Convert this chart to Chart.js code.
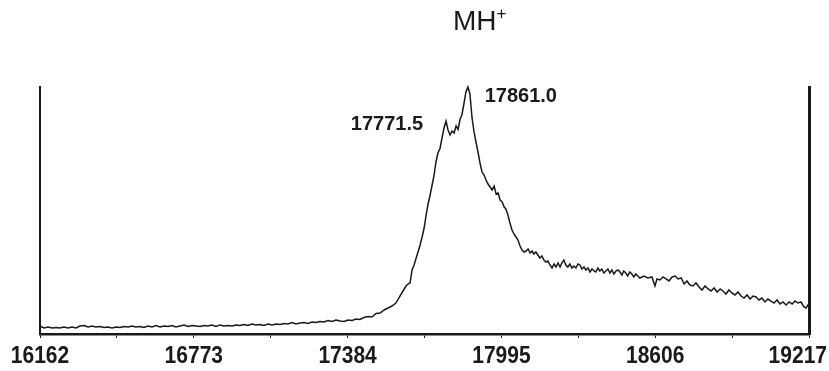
<!DOCTYPE html>
<html>
<head>
<meta charset="utf-8">
<script src="https://cdn.jsdelivr.net/npm/chart.js@4/dist/chart.umd.min.js"></script>
<style>
  html, body { margin: 0; padding: 0; background: #fff; }
</style>
</head>
<body>
<canvas id="chart" width="829" height="371"></canvas>
<script>
// spectrum: mass (Da) and relative intensity (%)
const masses = [
  16162,16178,16194,16210,16226,16241,16257,16273,16289,16305,
  16321,16337,16353,16369,16384,16400,16416,16432,16448,16464,
  16480,16496,16512,16528,16543,16559,16575,16591,16607,16623,
  16639,16655,16671,16686,16702,16718,16734,16750,16766,16782,
  16798,16814,16829,16845,16861,16877,16893,16909,16925,16941,
  16957,16972,16988,17004,17020,17036,17052,17068,17084,17100,
  17116,17131,17147,17163,17179,17195,17211,17227,17243,17259,
  17274,17290,17306,17322,17338,17354,17370,17386,17402,17417,
  17433,17449,17465,17481,17497,17513,17529,17545,17560,17576,
  17592,17604,17616,17624,17632,17640,17648,17660,17672,17680,
  17688,17696,17703,17711,17719,17727,17735,17743,17751,17759,
  17767,17775,17783,17791,17799,17807,17815,17823,17831,17838,
  17846,17854,17862,17870,17878,17886,17894,17902,17910,17918,
  17926,17934,17942,17950,17958,17966,17974,17982,17990,17998,
  18006,18013,18021,18029,18037,18045,18053,18061,18069,18077,
  18085,18093,18101,18109,18117,18124,18132,18140,18148,18156,
  18164,18172,18180,18188,18196,18204,18212,18220,18228,18235,
  18243,18251,18259,18267,18275,18283,18291,18299,18307,18315,
  18323,18331,18339,18347,18355,18363,18370,18378,18386,18394,
  18402,18410,18418,18426,18434,18442,18450,18458,18466,18474,
  18481,18489,18497,18505,18513,18521,18529,18537,18545,18561,
  18577,18593,18605,18613,18625,18637,18649,18661,18673,18685,
  18697,18709,18721,18732,18744,18756,18768,18780,18792,18804,
  18816,18828,18840,18852,18864,18875,18887,18899,18911,18923,
  18935,18947,18959,18971,18983,18995,19007,19018,19030,19042,
  19054,19066,19078,19090,19102,19114,19126,19138,19150,19161,
  19173,19185,19197,19205,19213,19217
]
const intensities = [
  3.24,2.43,2.83,2.43,2.63,2.43,2.83,2.43,2.83,2.43,
  3.24,3.44,2.83,3.24,2.83,3.04,2.63,2.83,2.43,2.83,
  2.63,3.04,2.83,3.24,2.83,3.04,2.63,3.24,2.83,3.44,
  2.83,3.24,3.04,3.44,2.83,3.24,3.64,3.04,3.44,3.24,
  3.04,3.44,3.24,3.64,3.04,3.64,3.24,3.44,3.24,3.64,
  3.44,3.85,3.44,4.05,3.64,3.85,3.44,4.05,3.64,4.05,
  3.85,4.25,4.05,4.66,4.05,4.45,4.66,4.25,4.86,4.66,
  5.06,4.86,5.47,5.06,5.67,5.26,5.06,5.67,5.47,6.07,
  5.87,6.68,7.09,6.88,8.30,8.50,9.72,10.53,11.34,12.55,
  15.38,17.41,19.43,20.24,20.65,25.91,27.94,31.98,36.03,39.27,
  42.91,48.18,52.23,55.87,59.92,63.97,69.64,73.28,75.10,79.35,
  83.40,86.23,82.59,80.57,82.20,81.38,84.21,82.80,87.04,88.66,
  93.12,98.00,100.0,97.17,87.85,82.00,77.73,73.68,69.23,65.59,
  64.37,62.35,60.73,59.51,58.30,59.90,56.68,57.09,54.25,53.44,
  51.42,50.61,48.18,44.94,42.11,40.49,39.27,38.06,35.63,34.01,
  33.20,33.60,34.41,32.79,33.60,32.39,33.20,31.98,30.77,31.58,
  29.96,29.15,29.55,27.94,26.72,28.34,27.13,28.74,27.13,28.74,
  29.96,27.94,27.13,28.34,26.72,27.53,26.72,28.34,27.94,26.32,
  27.13,25.91,26.72,25.10,26.32,25.51,25.10,26.72,25.51,26.32,
  24.70,25.51,26.32,24.70,25.91,24.29,25.51,25.91,25.10,23.89,
  25.51,24.70,23.48,25.10,24.29,23.08,24.29,23.48,22.67,23.48,
  22.67,23.08,19.43,22.27,21.86,23.08,22.27,21.46,23.08,23.48,
  22.27,22.67,20.24,21.46,19.84,19.43,20.65,19.03,17.81,19.43,
  18.22,17.41,18.62,17.00,18.22,17.41,16.19,17.81,16.60,15.79,
  17.00,15.38,14.57,15.79,14.17,15.38,14.98,13.77,14.57,12.96,
  14.17,13.36,12.55,13.77,12.15,12.96,11.74,12.96,12.15,13.36,
  12.55,12.96,10.93,10.53,11.74,11.30
]

const xTickValues = [16162, 16773, 17384, 17995, 18606, 19217]
const xMinorTicks = [16467.5, 17078.5, 17689.5, 18300.5, 18911.5]

const peakLabels = ['17771.5', '17861.0']
const peakMasses = [17771.5, 17861.0]
const peakHeights = [86.2, 100]

const titleText = 'MH'
const titleSup = '+'

const ink = '#1a1a1a'

// text that Chart.js can't place on its own: tick labels, peak labels, title
const labelPlugin = {
  id: 'spectrumLabels',
  afterDraw(chart) {
    const {ctx, chartArea} = chart
    const x = chart.scales.x
    const y = chart.scales.y
    ctx.save()
    ctx.fillStyle = ink
    ctx.textBaseline = 'alphabetic'

    // x tick labels (slightly tall, like the scan)
    ctx.font = 'bold 21px "Liberation Sans", Arial, sans-serif'
    ctx.textAlign = 'center'
    xTickValues.forEach(v => {
      const txt = String(v)
      const w = ctx.measureText(txt).width
      let px = x.getPixelForValue(v)
      px = Math.max(w / 2 + 2, Math.min(chart.width - w / 2 - 2, px))
      ctx.save()
      ctx.translate(px, chartArea.bottom + 29)
      ctx.scale(1, 1.15)
      ctx.fillText(txt, 0, 0)
      ctx.restore()
    })

    // peak annotations
    ctx.font = 'bold 20px "Liberation Sans", Arial, sans-serif'
    ctx.textAlign = 'right'
    ctx.fillText(peakLabels[0], x.getPixelForValue(peakMasses[0]) - 22, y.getPixelForValue(peakHeights[0]) + 9)
    ctx.textAlign = 'left'
    ctx.fillText(peakLabels[1], x.getPixelForValue(peakMasses[1]) + 17, y.getPixelForValue(peakHeights[1]) + 15)

    // title MH+
    ctx.font = '28px "Liberation Sans", Arial, sans-serif'
    ctx.textAlign = 'left'
    const tx = 453
    ctx.fillText(titleText, tx, 30)
    const tw = ctx.measureText(titleText).width
    ctx.font = '17px "Liberation Sans", Arial, sans-serif'
    ctx.fillText(titleSup, tx + tw, 19)
    ctx.restore()
  }
}

new Chart(document.getElementById('chart'), {
  type: 'line',
  data: {
    datasets: [{
      data: masses.map((m, i) => ({x: m, y: intensities[i]})),
      borderColor: ink,
      borderWidth: 1.5,
      pointRadius: 0,
      tension: 0,
      fill: false,
      clip: false
    }]
  },
  options: {
    responsive: false,
    animation: false,
    devicePixelRatio: 1,
    layout: {padding: {top: 87, left: 40, right: 20, bottom: 33}},
    plugins: {
      legend: {display: false},
      tooltip: {enabled: false},
      title: {display: false}
    },
    scales: {
      x: {
        type: 'linear',
        min: 16162,
        max: 19217,
        afterBuildTicks: scale => {
          scale.ticks = [...xTickValues, ...xMinorTicks].sort((a, b) => a - b).map(v => ({value: v}))
        },
        ticks: {display: false},
        grid: {drawOnChartArea: false, drawTicks: true, tickLength: 4, color: ink, lineWidth: 1},
        border: {display: true, color: ink, width: 2.5}
      },
      y: {
        min: 0,
        max: 100,
        ticks: {display: false},
        grid: {display: false, drawTicks: false},
        border: {display: true, color: ink, width: 2}
      },
      y2: {
        position: 'right',
        min: 0,
        max: 100,
        ticks: {display: false},
        grid: {display: false, drawTicks: false},
        border: {display: true, color: ink, width: 3}
      }
    }
  },
  plugins: [labelPlugin]
})
</script>
</body>
</html>
